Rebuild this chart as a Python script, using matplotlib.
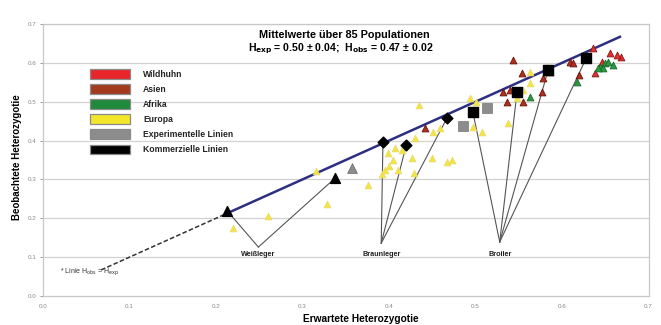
import matplotlib
matplotlib.use("Agg")
import matplotlib.pyplot as plt
from matplotlib.patches import Patch

plt.rcParams['font.family'] = ['Liberation Sans', 'DejaVu Sans']

# ---------------- data ----------------
europa_x = [0.220, 0.260, 0.328, 0.316, 0.376, 0.435, 0.430, 0.451, 0.450, 0.429,
            0.399, 0.407, 0.415, 0.405, 0.395, 0.410, 0.427, 0.459, 0.467, 0.494,
            0.501, 0.497, 0.507, 0.473, 0.538, 0.563, 0.583, 0.555, 0.563, 0.548,
            0.392, 0.400]
europa_y = [0.175, 0.206, 0.237, 0.322, 0.286, 0.492, 0.407, 0.422, 0.355, 0.317,
            0.368, 0.381, 0.376, 0.350, 0.324, 0.324, 0.355, 0.432, 0.345, 0.510,
            0.499, 0.435, 0.422, 0.350, 0.445, 0.576, 0.589, 0.530, 0.548, 0.510,
            0.315, 0.335]

asien_x = [0.543, 0.554, 0.532, 0.536, 0.555, 0.540, 0.578, 0.577, 0.586, 0.609,
           0.613, 0.620, 0.442]
asien_y = [0.607, 0.574, 0.525, 0.499, 0.499, 0.530, 0.561, 0.525, 0.576, 0.602,
           0.600, 0.569, 0.432]

wildhuhn_x = [0.636, 0.638, 0.655, 0.668, 0.664, 0.646]
wildhuhn_y = [0.638, 0.574, 0.625, 0.615, 0.620, 0.602]

afrika_x = [0.563, 0.617, 0.644, 0.650, 0.653, 0.659, 0.647, 0.642]
afrika_y = [0.512, 0.551, 0.589, 0.600, 0.602, 0.594, 0.587, 0.587]

# Weißleger (triangles), Braunleger (diamonds), Broiler (squares)
weiss_x = [0.213, 0.338]
weiss_y = [0.219, 0.304]
braun_x = [0.393, 0.420, 0.467]
braun_y = [0.396, 0.389, 0.458]
broiler_x = [0.497, 0.548, 0.584, 0.628]
broiler_y = [0.473, 0.525, 0.582, 0.612]

exp_tri_x = [0.357]
exp_tri_y = [0.329]
exp_sq_x = [0.513, 0.486]
exp_sq_y = [0.483, 0.437]

group_labels = ["Weißleger", "Braunleger", "Broiler"]
group_vertex_x = [0.249, 0.391, 0.528]
group_vertex_y = [0.126, 0.136, 0.139]

line_solid = [0.213, 0.667]
line_dashed = [0.067, 0.213]

legend_labels = ["Wildhuhn", "Asien", "Afrika", "Europa",
                 "Experimentelle Linien", "Kommerzielle Linien"]
legend_colors = ["#e8262a", "#a33a1e", "#1f8a3b", "#f3e62a", "#8c8c8c", "#000000"]

ticks = [0.0, 0.1, 0.2, 0.3, 0.4, 0.5, 0.6, 0.7]
tick_labels = ["0.0", "0.1", "0.2", "0.3", "0.4", "0.5", "0.6", "0.7"]

# ---------------- figure ----------------
fig = plt.figure(figsize=(6.61, 3.25), dpi=100)
ax = fig.add_axes([43 / 661, 1 - 296 / 325, (648.5 - 43) / 661, 272 / 325])
ax.set_xlim(0, 0.7)
ax.set_ylim(0, 0.7)

for t in ticks[1:]:
    ax.axhline(t, color="#d2d2d2", lw=0.9, zorder=0)

for s in ax.spines.values():
    s.set_color("#c8c8c8")
    s.set_linewidth(0.9)

ax.set_xticks(ticks)
ax.set_xticklabels(tick_labels)
ax.set_yticks(ticks)
ax.set_yticklabels(tick_labels)
ax.tick_params(axis="both", labelsize=4.5, colors="#888888", length=2, width=0.6,
               pad=3)
ax.tick_params(axis="x", length=0, pad=6)

# identity lines
ax.plot(line_dashed, line_dashed, color="#333333", lw=1.1, ls=(0, (3, 1.5)), zorder=2)
ax.plot(line_solid, line_solid, color="#2d2f80", lw=1.8, zorder=2)

# annotation lines
groups = [(weiss_x, weiss_y), (braun_x, braun_y), (broiler_x, broiler_y)]
for (gx, gy), vx, vy, lab in zip(groups, group_vertex_x, group_vertex_y, group_labels):
    for px, py in zip(gx, gy):
        ax.plot([vx, px], [vy, py], color="#555555", lw=0.8, zorder=3)
    ax.text(vx, 0.108, lab, fontsize=5.2, fontweight="bold", ha="center",
            va="center", color="#222222")

ms = 24
ax.scatter(europa_x, europa_y, marker="^", s=ms, c="#f2e540", edgecolors="#e8d870",
           linewidths=0.5, zorder=4)
ax.scatter(asien_x, asien_y, marker="^", s=ms, c="#b0301e", edgecolors="#6a1008",
           linewidths=0.6, zorder=4)
ax.scatter(wildhuhn_x, wildhuhn_y, marker="^", s=ms, c="#e03030", edgecolors="#8a1818",
           linewidths=0.6, zorder=4)
ax.scatter(afrika_x, afrika_y, marker="^", s=ms, c="#2a9a40", edgecolors="#1a6a2a",
           linewidths=0.6, zorder=4)

ax.scatter(exp_tri_x, exp_tri_y, marker="^", s=50, c="#8c8c8c", edgecolors="#666666",
           linewidths=0.5, zorder=5)
ax.scatter(exp_sq_x, exp_sq_y, marker="s", s=45, c="#8c8c8c", edgecolors="#777777",
           linewidths=0.5, zorder=5)
ax.scatter(weiss_x, weiss_y, marker="^", s=50, c="black", zorder=6)
ax.scatter(braun_x, braun_y, marker="D", s=30, c="black", zorder=6)
ax.scatter(broiler_x, broiler_y, marker="s", s=58, c="black", zorder=6)

ax.text(0.02, 0.062, r"* Linie H$_{\mathrm{obs}}$ = H$_{\mathrm{exp}}$", fontsize=5,
        color="#333333", ha="left", va="center")

# titles
fig.text(344 / 661, 1 - 35 / 325, "Mittelwerte über 85 Populationen", fontsize=7.8,
         fontweight="bold", ha="center", va="center")
fig.text(341 / 661, 1 - 49 / 325,
         r"H$_{\mathbf{exp}}$ = 0.50 ± 0.04;  H$_{\mathbf{obs}}$ = 0.47 ± 0.02",
         fontsize=7.6, fontweight="bold", ha="center", va="center")

fig.text(361 / 661, 1 - 319 / 325, "Erwartete Heterozygotie", fontsize=7.3,
         fontweight="bold", ha="center", va="center")
fig.text(17 / 661, 1 - 157 / 325, "Beobachtete Heterozygotie", fontsize=7,
         fontweight="bold", ha="center", va="center", rotation=90)

# legend
handles = [Patch(facecolor=c, edgecolor="#8a8a8a", linewidth=0.9) for c in legend_colors]
fs = 6.2
fspx = fs * 100 / 72
leg = fig.legend(handles, legend_labels, loc="upper left",
                 bbox_to_anchor=(90 / 661, 1 - 69 / 325), frameon=False,
                 fontsize=fs, handlelength=40 / fspx, handleheight=12 / fspx,
                 labelspacing=5.2 / fspx, handletextpad=13 / fspx, borderpad=0,
                 borderaxespad=0)
for t in leg.get_texts():
    t.set_fontweight("bold")
    t.set_color("#222222")

fig.savefig("out.png", dpi=100)
